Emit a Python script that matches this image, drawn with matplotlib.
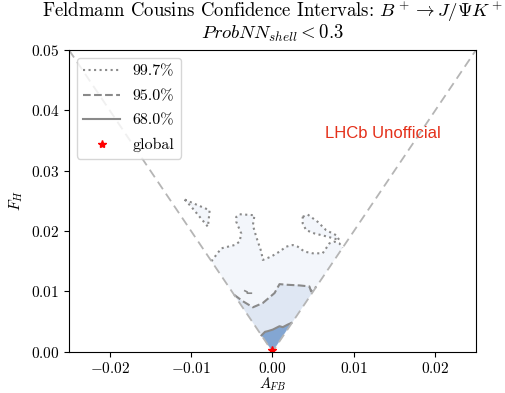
import numpy as np
import matplotlib
matplotlib.use("Agg")
import matplotlib.pyplot as plt

plt.rcParams['font.family'] = 'serif'
plt.rcParams['font.serif'] = ['cmr10']
plt.rcParams['mathtext.fontset'] = 'cm'
plt.rcParams['axes.formatter.use_mathtext'] = True

# contour boundaries (A_FB, F_H)
afb_997 = [-0.0075, -0.00629, -0.00466, -0.00404, -0.00384, -0.00445, -0.00445, -0.00404,
           -0.00221, -0.00241, -0.00200, -0.00138, -0.00119, -0.00016, 0.00086, 0.00168,
           0.00249, 0.00310, 0.00392, 0.00494, 0.00616, 0.00658, 0.00699, 0.00760, 0.00821, 0.00862]
fh_997 = [0.0150, 0.01713, 0.01768, 0.01824, 0.01960, 0.02153, 0.02236, 0.02278,
          0.02262, 0.02097, 0.01906, 0.01659, 0.01521, 0.01577, 0.01659, 0.01741,
          0.01768, 0.01741, 0.01659, 0.01631, 0.01631, 0.01713, 0.01796, 0.01824, 0.01796, 0.01724]

# closed islands of the 99.7% contour
afb_isl_left = [-0.01078, -0.00772, -0.00793, -0.00895, -0.00996, -0.01078]
fh_isl_left = [0.02521, 0.02344, 0.02071, 0.02236, 0.02400, 0.02521]
afb_isl_right = [0.00371, 0.00433, 0.00555, 0.00658, 0.00781, 0.00821, 0.00678, 0.00515, 0.00413, 0.00371, 0.00371]
fh_isl_right = [0.02236, 0.02273, 0.02153, 0.02015, 0.01932, 0.01850, 0.01906, 0.01960, 0.02015, 0.02125, 0.02236]

afb_95 = [-0.00472, -0.00368, -0.00241, -0.00119, 0.00025, 0.00086, 0.00187, 0.00331, 0.00453, 0.00474, 0.0054]
fh_95 = [0.00944, 0.0084, 0.00736, 0.00807, 0.00972, 0.0112, 0.01109, 0.01099, 0.01082, 0.0100, 0.0108]
afb_95_isl = [-0.0034, -0.0031, -0.0031, -0.0026]
fh_95_isl = [0.0101, 0.0099, 0.0097, 0.0097]

afb_68 = [-0.00135, -0.00092, -0.00058, 0.00004, 0.00086, 0.00126, 0.00187, 0.00233]
fh_68 = [0.00272, 0.0033, 0.00341, 0.00367, 0.00423, 0.00407, 0.0045, 0.00478]

global_afb, global_fh = 0.0, 0.0003

fig = plt.figure(figsize=(5.05, 3.93), dpi=100)
ax = fig.add_axes([0.1366, 0.105, 0.806, 0.7678])

c997, c95, c68 = '#f3f6fb', '#dfe7f3', '#83a6d2'
lc = '#8a8a8a'

ax.fill([0] + afb_997, [0] + fh_997, color=c997, lw=0)
ax.fill(afb_isl_left, fh_isl_left, color=c997, lw=0)
ax.fill(afb_isl_right, fh_isl_right, color=c997, lw=0)
ax.fill([0] + afb_95, [0] + fh_95, color=c95, lw=0)
ax.fill([0] + afb_68, [0] + fh_68, color=c68, lw=0)

ax.plot(afb_997, fh_997, ls=':', color=lc, lw=1.5, label='99.7%')
ax.plot(afb_isl_left, fh_isl_left, ls=':', color=lc, lw=1.5)
ax.plot(afb_isl_right, fh_isl_right, ls=':', color=lc, lw=1.5)
ax.plot(afb_95, fh_95, ls='--', color=lc, lw=1.5, label='95.0%')
ax.plot(afb_95_isl, fh_95_isl, ls='-', color=lc, lw=1.2)
ax.plot(afb_68, fh_68, ls='-', color=lc, lw=1.5, label='68.0%')

# physical boundary |A_FB| < F_H / 2
xb = np.array([-0.025, 0.0, 0.025])
ax.plot(xb, 2 * np.abs(xb), ls=(0, (5, 3)), color='#b5b5b5', lw=1.3)

ax.plot(global_afb, global_fh, '*', color='red', ms=6, ls='none', label='global')

ax.text(0.0064, 0.0362, 'LHCb Unofficial', color='#e4301a', fontsize=12,
        family='Liberation Sans', va='center', ha='left')

ax.set_xlim(-0.025, 0.025)
ax.set_ylim(0, 0.05)
ax.set_xticks([-0.02, -0.01, 0.0, 0.01, 0.02])
ax.set_yticks([0.0, 0.01, 0.02, 0.03, 0.04, 0.05])
ax.tick_params(labelsize=11)
ax.tick_params(axis='x', pad=3.5)
ax.set_xlabel(r'$A_{FB}$', fontsize=10.5, labelpad=-1)
ax.set_ylabel(r'$F_H$', fontsize=11)
ax.set_title(r'Feldmann Cousins Confidence Intervals: $B^+ \rightarrow J/\Psi K^+$' + '\n'
             + r'$ProbNN_{shell} < 0.3$', fontsize=13.5, pad=8, linespacing=0.9)
ax.legend(loc='upper left', fontsize=11.5, handlelength=2.3, labelspacing=0.65)

fig.savefig('out.png', dpi=100)
